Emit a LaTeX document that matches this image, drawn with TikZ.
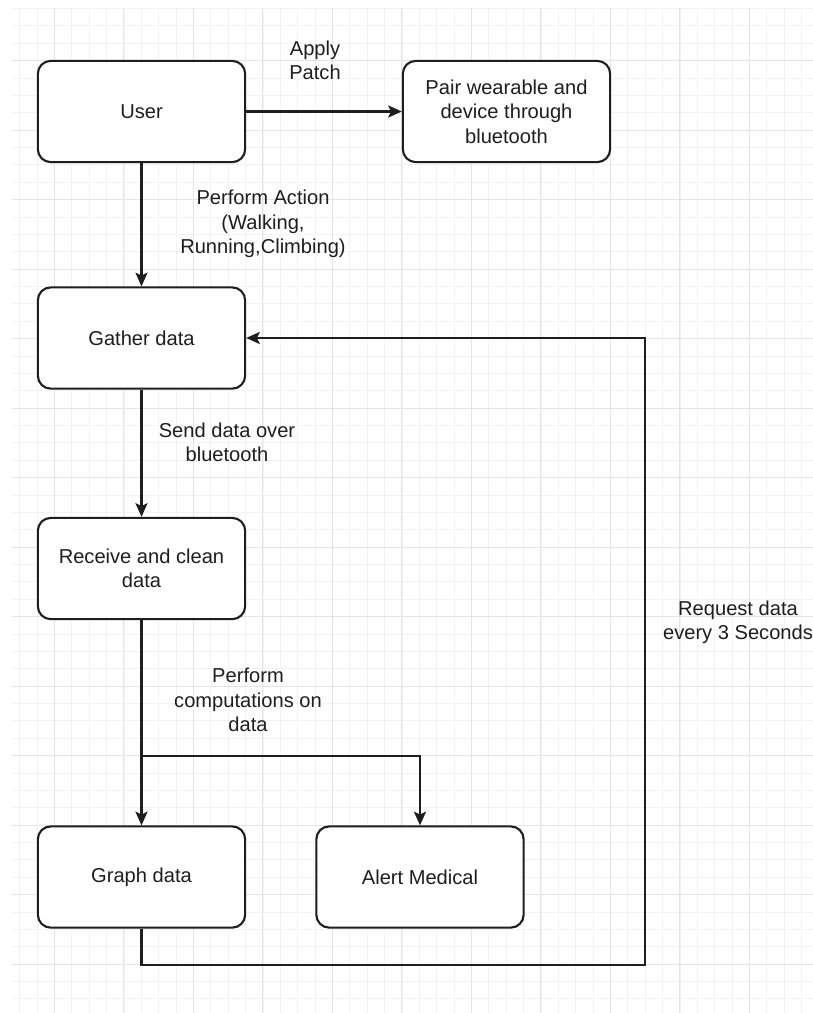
\documentclass[tikz,border=0pt]{standalone}
\usepackage{fontspec}
\setmainfont{Liberation Sans}
\usetikzlibrary{arrows.meta}

\definecolor{gridminor}{HTML}{F3F3F3}
\definecolor{gridmajor}{HTML}{E5E5E5}
\definecolor{ink}{HTML}{1E1E1E}

\tikzset{
  box/.style={draw=ink, line width=1.5pt, rounded corners=0.32cm, fill=white,
    minimum width=5.18cm, minimum height=2.53cm, align=center, inner sep=0pt},
  lbl/.style={align=center, inner sep=0pt},
  arr/.style={draw=ink, line width=1.5pt,
    -{Stealth[length=0.34cm, width=0.3cm, inset=0.07cm]}},
}

\begin{document}
\begin{tikzpicture}[x=0.025cm, y=-0.025cm, text=ink,
    font=\fontsize{14.3pt}{17.3pt}\selectfont]
  % Hintergrund
  \useasboundingbox (0,0) rectangle (813,1013);
  \fill[white] (0,0) rectangle (813,1013);
  \foreach \x in {19.65,37.025,...,813}
    \draw[gridminor, line width=0.5pt] (\x,8.4) -- (\x,1013);
  \foreach \y in {8.4,25.775,...,1013}
    \draw[gridminor, line width=0.5pt] (12,\y) -- (813,\y);
  \foreach \x in {54.4,123.9,...,813}
    \draw[gridmajor, line width=0.6pt] (\x,8.4) -- (\x,1013);
  \foreach \y in {60.5,130,...,1013}
    \draw[gridmajor, line width=0.6pt] (12,\y) -- (813,\y);

  % Kaesten
  \node[box] (user)    at (141.5,111.5) {User};
  \node[box] (pair)    at (506.5,111.5) {Pair wearable and\\device through\\bluetooth};
  \node[box] (gather)  at (141.5,338)   {Gather data};
  \node[box] (receive) at (141.5,568.5) {Receive and clean\\data};
  \node[box] (graph)   at (141.5,877)   {Graph data};
  \node[box] (alert)   at (420,877)     {Alert Medical};

  % Hilfspunkte
  \coordinate (split) at (141.5,756);
  \coordinate (loop)  at (645,965);

  % Pfeile
  \draw[arr] (user) -- (pair);
  \draw[arr] (user) -- (gather);
  \draw[arr] (gather) -- (receive);
  \draw[arr] (receive) -- (graph);
  \draw[arr] (split) -| (alert);
  \draw[arr] (graph.south) |- (loop) |- (gather.east);

  % Beschriftungen
  \node[lbl] (patch)   at (315,60)  {Apply\\Patch};
  \node[lbl] (action)  at (263,224) {Perform Action\\(Walking,\\Running,Climbing)};
  \node[lbl] (send)    at (227,442) {Send data over\\bluetooth};
  \node[lbl] (compute) at (248,700) {Perform\\computations on\\data};
  \node[lbl] (request) at (738,622) {Request data\\every 3 Seconds};
\end{tikzpicture}
\end{document}
